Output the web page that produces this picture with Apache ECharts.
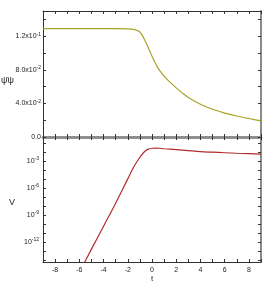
<!DOCTYPE html>
<html>
<head>
<meta charset="utf-8">
<script src="https://cdn.jsdelivr.net/npm/echarts@6/dist/echarts.min.js"></script>
<style>
html,body{margin:0;padding:0;background:#fff;}
#chart{width:273px;height:284px;}
</style>
</head>
<body>
<div id="chart"></div>
<script>
// ---- data ----
const tTop = [-9, -3, -2, -1.5, -1, -0.5, 0, 0.5, 1, 1.5, 2, 2.5, 3, 4, 5, 6, 7, 8, 9];
const psiBarPsi = [0.1290, 0.1290, 0.1288, 0.1280, 0.1250, 0.1125, 0.0960, 0.0820, 0.0725, 0.0650, 0.0585, 0.0525, 0.0470, 0.0390, 0.0330, 0.0285, 0.0250, 0.0220, 0.0192];

const tBottom = [-6, -5, -4, -3, -2, -1.5, -1, -0.7, -0.5, -0.3, 0, 0.3, 0.6, 1, 2, 3, 4, 5, 6, 7, 8, 9];
const V = [4.0e-16, 1.6e-13, 5.6e-11, 2.0e-8, 1.0e-5, 2.2e-4, 2.5e-3, 7.9e-3, 1.4e-2, 2.0e-2, 2.5e-2, 2.6e-2, 2.5e-2, 2.2e-2, 1.74e-2, 1.35e-2, 1.05e-2, 9.1e-3, 7.9e-3, 6.9e-3, 6.2e-3, 5.5e-3];

const xTickValues = [-8, -6, -4, -2, 0, 2, 4, 6, 8];
const xTickLabels = ['-8', '-6', '-4', '-2', '0', '2', '4', '6', '8'];
const topTickValues = [0, 0.04, 0.08, 0.12];
const topTickLabels = ['0.0', '4.0x10{s|-2}', '8.0x10{s|-2}', '1.2x10{s|-1}'];
const bottomTickValues = [1e-12, 1e-9, 1e-6, 1e-3];
const bottomTickLabels = ['10{s|-12}', '10{s|-9}', '10{s|-6}', '10{s|-3}'];
const bottomMinorTicks = [1e-14, 1e-13, 1e-12, 1e-11, 1e-10, 1e-9, 1e-8, 1e-7, 1e-6, 1e-5, 1e-4, 1e-3, 1e-2, 1e-1];

// ---- chart ----
const FONT = 'Liberation Sans, Arial, sans-serif';
const dark = '#333';
const gray = '#8a8a8a';

function pick(values, labels, v, rel) {
  for (let i = 0; i < values.length; i++) {
    const d = Math.abs(v - values[i]);
    if (rel ? d < values[i] * 1e-6 : d < 1e-9) return labels[i];
  }
  return '';
}
const rich = { s: { fontSize: 5, fontFamily: FONT, color: '#222', verticalAlign: 'top', lineHeight: 6 } };
const labelBase = { fontSize: 7, fontFamily: FONT, color: '#222', lineHeight: 9, rich: rich };

function xAx(grid, pos, lineColor, lineWidth, showLabel) {
  return {
    type: 'value', gridIndex: grid, position: pos, min: -9, max: 9, interval: 1,
    axisLine: { show: true, onZero: false, lineStyle: { color: lineColor, width: lineWidth } },
    axisTick: { show: true, inside: true, length: 3, lineStyle: { color: dark, width: 1 } },
    axisLabel: showLabel ? Object.assign({}, labelBase, { margin: 4,
      formatter: v => pick(xTickValues, xTickLabels, v, false) }) : { show: false },
    splitLine: { show: false }
  };
}
function yTop(pos, lineColor, lineWidth, showLabel) {
  return {
    type: 'value', gridIndex: 0, position: pos, min: 0, max: 0.15, interval: 0.02,
    axisLine: { show: true, onZero: false, lineStyle: { color: lineColor, width: lineWidth } },
    axisTick: { show: true, inside: true, length: 3, lineStyle: { color: dark, width: 1 } },
    axisLabel: showLabel ? Object.assign({}, labelBase, { margin: 2,
      formatter: v => pick(topTickValues, topTickLabels, v, false) }) : { show: false },
    splitLine: { show: false }
  };
}
function yBot(pos, lineColor, lineWidth, showLabel) {
  return {
    type: 'log', logBase: 10, gridIndex: 1, position: pos, min: 6e-15, max: 0.44,
    axisLine: { show: true, onZero: false, lineStyle: { color: lineColor, width: lineWidth } },
    axisTick: { show: true, inside: true, length: 3, customValues: bottomMinorTicks, lineStyle: { color: dark, width: 1 } },
    axisLabel: showLabel ? Object.assign({}, labelBase, { margin: 4, customValues: bottomTickValues,
      formatter: v => pick(bottomTickValues, bottomTickLabels, v, true) }) : { show: false },
    splitLine: { show: false }
  };
}

const chart = echarts.init(document.getElementById('chart'), null, { renderer: 'canvas' });
chart.setOption({
  animation: false,
  backgroundColor: '#fff',
  grid: [
    { left: 43, top: 11, width: 218, height: 126 },
    { left: 43, top: 137, width: 218, height: 125 }
  ],
  xAxis: [
    xAx(0, 'bottom', gray, 2.5, false),
    xAx(0, 'top', dark, 1, false),
    xAx(1, 'bottom', dark, 1, true),
    xAx(1, 'top', gray, 2.5, false)
  ],
  yAxis: [
    yTop('left', dark, 1, true),
    yTop('right', gray, 2, false),
    yBot('left', dark, 1, true),
    yBot('right', gray, 2, false)
  ],
  graphic: [
    { type: 'text', left: 1, top: 76, style: { text: 'ψ̄ψ', fontSize: 9, fontFamily: FONT, fill: '#222' } },
    { type: 'text', left: 9, top: 198, style: { text: 'V', fontSize: 9, fontFamily: FONT, fill: '#222' } },
    { type: 'text', left: 151, top: 275, style: { text: 't', fontSize: 8, fontFamily: FONT, fill: '#222' } }
  ],
  series: [
    { type: 'line', xAxisIndex: 0, yAxisIndex: 0, showSymbol: false, symbol: 'none', smooth: 0.3,
      lineStyle: { color: '#a8a425', width: 1.2 },
      data: tTop.map((t, i) => [t, psiBarPsi[i]]) },
    { type: 'line', xAxisIndex: 2, yAxisIndex: 2, showSymbol: false, symbol: 'none', smooth: 0.3,
      lineStyle: { color: '#b02c2c', width: 1.2 },
      data: tBottom.map((t, i) => [t, V[i]]) }
  ]
});
</script>
</body>
</html>
